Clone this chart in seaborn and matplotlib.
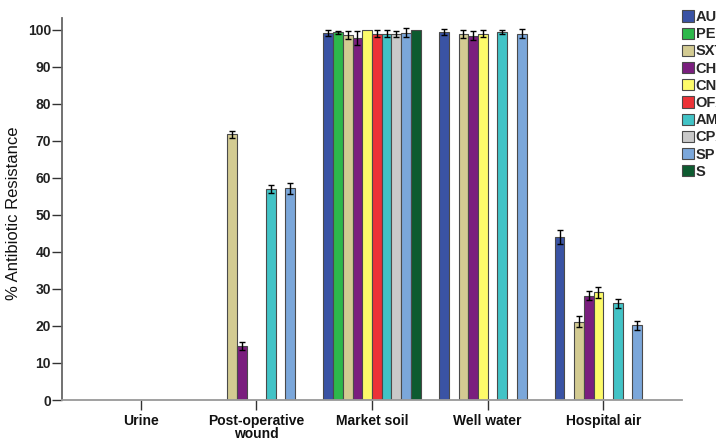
import numpy as np
import pandas as pd
import matplotlib
matplotlib.use("Agg")
import matplotlib.pyplot as plt
from matplotlib import font_manager
import seaborn as sns

categories = ["Urine", "Post-operative\nwound", "Market soil", "Well water", "Hospital air"]
antibiotics = ["AU", "PEF", "SXT", "CH", "CN", "OFX", "AM", "CPX", "SP", "S"]
colors = ["#3A53A4", "#2DB84B", "#D3CB92", "#7A1E7E", "#FDFB6A",
          "#EC3237", "#42C3C6", "#C9C9C9", "#7BA7DA", "#0D5B30"]
nan = np.nan
#             AU    PEF   SXT   CH    CN    OFX   AM    CPX   SP    S
urine_vals = [nan,  nan,  nan,  nan,  nan,  nan,  nan,  nan,  nan,  nan]
wound_vals = [nan,  nan,  71.8, 14.6, nan,  nan,  57.0, nan,  57.2, nan]
soil_vals  = [99.1, 99.4, 98.6, 97.8, 100., 99.0, 99.0, 98.9, 99.2, 100.]
well_vals  = [99.3, nan,  98.8, 98.4, 99.0, nan,  99.4, nan,  99.0, nan]
air_vals   = [44.0, nan,  21.1, 28.2, 29.1, nan,  26.1, nan,  20.2, nan]

urine_errs = [nan,  nan,  nan,  nan,  nan,  nan,  nan,  nan,  nan,  nan]
wound_errs = [nan,  nan,  1.0,  1.0,  nan,  nan,  1.2,  nan,  1.5,  nan]
soil_errs  = [0.8,  0.4,  1.2,  1.8,  0.0,  1.0,  1.0,  0.8,  1.2,  0.0]
well_errs  = [0.8,  nan,  1.1,  1.2,  0.9,  nan,  0.6,  nan,  1.1,  nan]
air_errs   = [1.8,  nan,  1.5,  1.3,  1.5,  nan,  1.3,  nan,  1.2,  nan]

all_vals = [urine_vals, wound_vals, soil_vals, well_vals, air_vals]
all_errs = [urine_errs, wound_errs, soil_errs, well_errs, air_errs]

rows = []
for cat, vals, errs in zip(categories, all_vals, all_errs):
    for ab, v, e in zip(antibiotics, vals, errs):
        if not np.isnan(v):
            rows.append({"site": cat, "antibiotic": ab, "value": v, "err": e})
df = pd.DataFrame(rows)

sns.set_theme(style="white")
plt.rcParams["font.family"] = ["Liberation Sans", "DejaVu Sans"]

installed = {f.name for f in font_manager.fontManager.ttflist}
narrow = ["Liberation Sans Narrow", "Liberation Sans"] if "Liberation Sans Narrow" in installed \
    else ["Liberation Sans", "DejaVu Sans"]

fig = plt.figure(figsize=(7.16, 4.41), dpi=100)
ax = fig.add_axes([62 / 716, 41 / 441, 620 / 716, 382 / 441])

group_w = 0.84
sns.barplot(data=df, x="site", y="value", hue="antibiotic",
            order=categories, hue_order=antibiotics, palette=colors,
            saturation=1, width=group_w, errorbar=None, ax=ax,
            edgecolor="#4a4a4a", linewidth=0.8)

# error bars
slot = group_w / len(antibiotics)
for p in ax.patches:
    cx = p.get_x() + p.get_width() / 2
    ci = int(round(cx))
    si = int(round((cx - ci + group_w / 2 - slot / 2) / slot))
    if 0 <= ci < len(categories) and 0 <= si < len(antibiotics):
        e = all_errs[ci][si]
        if not np.isnan(e) and e > 0:
            ax.errorbar(cx, p.get_height(), yerr=e, fmt="none", ecolor="black",
                        elinewidth=1, capsize=2, capthick=1, zorder=5)

handles, labels = ax.get_legend_handles_labels()
if ax.get_legend() is not None:
    ax.get_legend().remove()
leg = fig.legend(handles, labels, loc="upper left",
                 bbox_to_anchor=(682 / 716, 1 - 10 / 441),
                 frameon=False, borderaxespad=0, borderpad=0,
                 handlelength=0.8, handleheight=0.8, handletextpad=0.15,
                 labelspacing=0.22,
                 prop={"family": narrow, "weight": "bold", "size": 10.5})
for h in leg.legend_handles:
    h.set_edgecolor("#4a4a4a")
    h.set_linewidth(0.8)

ax.set_xlim(-0.68, 4.68)
ax.set_ylim(0, 103.2)
ax.set_yticks(range(0, 101, 10))
ax.set_yticklabels([str(v) for v in range(0, 101, 10)], fontsize=10,
                   fontweight="bold", family=narrow)
ax.set_xticks(range(len(categories)))
ax.set_xticklabels(categories, fontsize=10, fontweight="bold", linespacing=0.9)
ax.set_xlabel("")
ax.set_ylabel("% Antibiotic Resistance", fontsize=12, color="#111111")
ax.yaxis.set_label_coords(-0.066, 0.49)

sns.despine(ax=ax)
ax.spines["left"].set_color("#666666")
ax.spines["left"].set_linewidth(1.3)
ax.spines["bottom"].set_color("#999999")
ax.spines["bottom"].set_linewidth(1.3)
ax.tick_params(axis="y", direction="out", length=7, width=1, color="#333333",
               pad=1, left=True, labelcolor="#222222")
ax.tick_params(axis="x", direction="out", length=7, width=1, color="#333333",
               pad=3, bottom=True, labelcolor="#111111")
ax.grid(False)

fig.savefig("out.png", dpi=100)
